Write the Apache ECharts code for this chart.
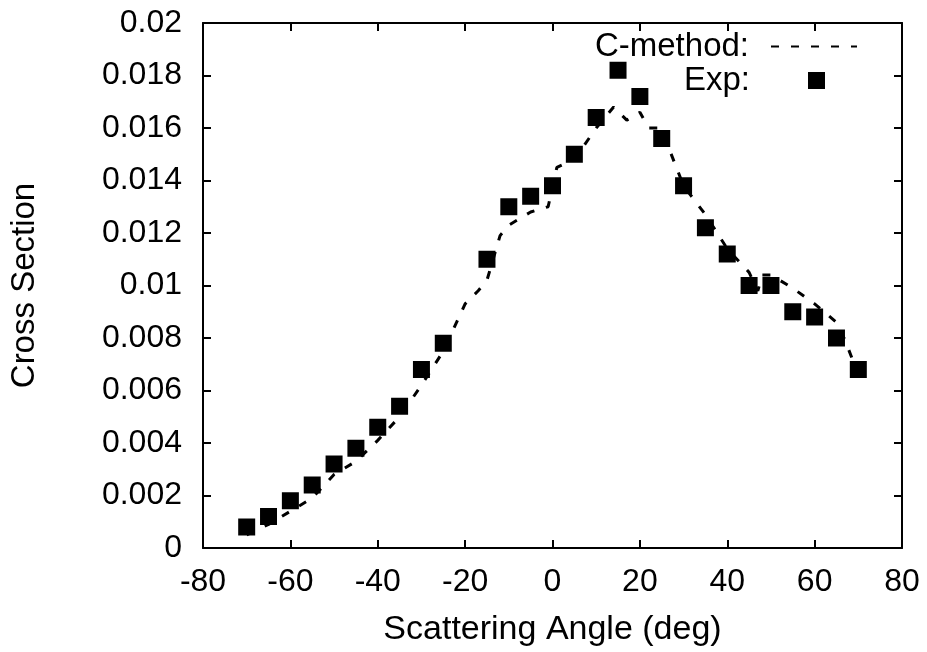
<!DOCTYPE html>
<html>
<head>
<meta charset="utf-8">
<script src="https://cdn.jsdelivr.net/npm/echarts@6/dist/echarts.min.js"></script>
<style>
  html, body { margin: 0; padding: 0; background: #fff; }
  #chart { width: 927px; height: 652px; }
</style>
</head>
<body>
<div id="chart"></div>
<script>
// Experimental cross sections (deg, value)
const expAngles = [-70, -65, -60, -55, -50, -45, -40, -35, -30, -25, -15, -10, -5, 0, 5, 10, 15, 20, 25, 30, 35, 40, 45, 50, 55, 60, 65, 70];
const expValues = [0.0008, 0.0012, 0.0018, 0.0024, 0.0032, 0.0038, 0.0046, 0.0054, 0.0068, 0.0078, 0.011, 0.013, 0.0134, 0.0138, 0.015, 0.0164, 0.0182, 0.0172, 0.0156, 0.0138, 0.0122, 0.0112, 0.01, 0.01, 0.009, 0.0088, 0.008, 0.0068];

// C-method calculation
const calcAngles = [-70, -65, -60, -55, -50, -45, -40, -35, -30, -25, -20, -17, -15, -12, -10, -5, -1, 1, 5, 10, 14, 17, 20, 22, 25, 26, 30, 35, 40, 45, 47, 48, 50, 55, 60, 65, 67, 70];
const calcValues = [0.0005, 0.0009, 0.0014, 0.0019, 0.0028, 0.0033, 0.0041, 0.005, 0.0062, 0.0075, 0.0093, 0.0098, 0.0102, 0.0119, 0.0123, 0.0128, 0.013, 0.0145, 0.0148, 0.016, 0.0168, 0.0163, 0.0166, 0.016, 0.016, 0.0155, 0.0138, 0.0127, 0.0114, 0.0105, 0.0098, 0.0104, 0.0104, 0.0099, 0.0093, 0.0086, 0.0079, 0.0066];

const xTicks = { min: -80, max: 80, interval: 20 };
const yTicks = { min: 0, max: 0.02, interval: 0.002 };

const zip = (a, b) => a.map((v, i) => [v, b[i]]);

const FONT = 'Liberation Sans, Arial, Helvetica, sans-serif';
const axisLine = { show: true, onZero: false, lineStyle: { color: '#000', width: 2 } };
const axisTick = { show: true, inside: true, length: 8, lineStyle: { color: '#000', width: 2 } };

const chart = echarts.init(document.getElementById('chart'), null, { renderer: 'canvas' });

chart.setOption({
  backgroundColor: '#fff',
  animation: false,
  textStyle: { fontFamily: FONT },
  grid: { left: 203, right: 25, top: 23, bottom: 104, containLabel: false },
  legend: [
    {
      data: ['C-method:'],
      right: 69, top: 30, padding: 0,
      align: 'right',
      itemWidth: 86, itemHeight: 14,
      itemStyle: { opacity: 0 },
      textStyle: { fontSize: 33, color: '#000', fontFamily: FONT, padding: [0, 17, 0, 0] },
      selectedMode: false
    },
    {
      data: ['Exp:'],
      right: 102, top: 64, padding: 0,
      align: 'right',
      itemWidth: 17, itemHeight: 17,
      textStyle: { fontSize: 33, color: '#000', fontFamily: FONT, padding: [0, 53, 0, 0] },
      selectedMode: false
    }
  ],
  xAxis: [
    {
      type: 'value', position: 'bottom',
      min: xTicks.min, max: xTicks.max, interval: xTicks.interval,
      axisLine, axisTick,
      splitLine: { show: false },
      axisLabel: { fontSize: 32, color: '#000', margin: 18, fontFamily: FONT },
      name: 'Scattering Angle (deg)',
      nameLocation: 'middle', nameGap: 65,
      nameTextStyle: { fontSize: 34, color: '#000', fontFamily: FONT }
    },
    {
      type: 'value', position: 'top',
      min: xTicks.min, max: xTicks.max, interval: xTicks.interval,
      axisLine, axisTick,
      splitLine: { show: false },
      axisLabel: { show: false }
    }
  ],
  yAxis: [
    {
      type: 'value', position: 'left',
      min: yTicks.min, max: yTicks.max, interval: yTicks.interval,
      axisLine, axisTick,
      splitLine: { show: false },
      axisLabel: {
        fontSize: 32, color: '#000', margin: 21, fontFamily: FONT,
        formatter: v => String(+v.toFixed(4))
      },
      name: 'Cross Section',
      nameLocation: 'middle', nameGap: 162, nameRotate: 90,
      nameTextStyle: { fontSize: 33, color: '#000', fontFamily: FONT }
    },
    {
      type: 'value', position: 'right',
      min: yTicks.min, max: yTicks.max, interval: yTicks.interval,
      axisLine, axisTick,
      splitLine: { show: false },
      axisLabel: { show: false }
    }
  ],
  series: [
    {
      name: 'C-method:',
      type: 'line',
      data: zip(calcAngles, calcValues),
      showSymbol: false,
      symbol: 'none',
      lineStyle: { color: '#000', width: 3, type: [8, 12] },
      itemStyle: { color: '#000' },
      z: 2
    },
    {
      name: 'Exp:',
      type: 'scatter',
      data: zip(expAngles, expValues),
      symbol: 'rect',
      symbolSize: 17,
      itemStyle: { color: '#000', opacity: 1 },
      z: 3
    }
  ]
});
</script>
</body>
</html>
